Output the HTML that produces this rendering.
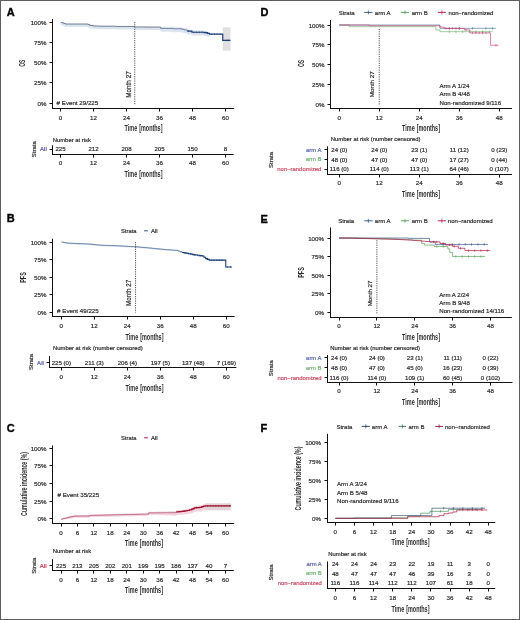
<!DOCTYPE html>
<html><head><meta charset="utf-8"><style>
html,body{margin:0;padding:0;background:#fff;width:520px;height:620px;overflow:hidden;}
svg{display:block;will-change:transform;}
text{font-family:"Liberation Sans", sans-serif;}
</style></head><body>
<svg width="520" height="620" viewBox="0 0 520 620">
<rect x="0" y="0" width="520" height="620" fill="#fff"/>
<text x="6.8" y="15.7" font-size="11" font-weight="bold" fill="#000" stroke="#000" stroke-width="0.35">A</text>
<polygon points="60.50,22.30 61.60,22.30 61.60,22.30 62.70,22.30 62.70,22.30 64.08,22.30 64.08,22.70 65.45,22.70 65.45,23.27 88.00,23.27 88.00,23.67 89.65,23.67 89.65,24.72 93.50,24.72 93.50,25.21 99.00,25.21 99.00,25.45 115.50,25.45 115.50,25.69 134.75,25.69 134.75,26.17 145.75,26.17 145.75,26.33 160.60,26.33 160.60,26.82 173.25,26.82 173.25,27.14 181.50,27.14 181.50,27.63 184.25,27.63 184.25,28.35 187.28,28.35 187.28,29.48 191.95,29.48 191.95,30.61 204.19,30.61 204.19,30.93 207.35,30.93 207.35,31.82 209.55,31.82 209.55,32.55 209.55,37.55 209.55,36.83 207.35,36.83 207.35,35.94 204.19,35.94 204.19,35.62 191.95,35.62 191.95,34.49 187.28,34.49 187.28,33.36 184.25,33.36 184.25,32.63 181.50,32.63 181.50,32.15 173.25,32.15 173.25,31.82 160.60,31.82 160.60,30.05 145.75,30.05 145.75,29.89 134.75,29.89 134.75,29.40 115.50,29.40 115.50,29.16 99.00,29.16 99.00,28.92 93.50,28.92 93.50,28.43 89.65,28.43 89.65,27.38 88.00,27.38 88.00,26.98 65.45,26.98 65.45,26.42 64.08,26.42 64.08,25.93 62.70,25.93 62.70,25.53 61.60,25.53 61.60,25.21 60.50,25.21" fill="#dbe3ee" opacity="1.0"/>
<rect x="222.75" y="27.30" width="7.70" height="23.40" fill="#e0e0e3" opacity="1.0"/>
<path d="M60.50,22.30H61.60V22.62H62.70V23.03H64.08V23.51H65.45V24.08H88.00V24.48H89.65V25.53H93.50V26.01H99.00V26.25H115.50V26.50H134.75V26.98H145.75V27.14H160.60V28.43" fill="none" stroke="#525e74" stroke-width="0.7" opacity="1.0"/>
<path d="M160.60,28.43H173.25V28.76H181.50V29.24H184.25V29.97H187.28V31.10" fill="none" stroke="#4d6385" stroke-width="0.7" opacity="1.0"/>
<path d="M187.28,31.10H191.95V32.23H204.19V32.55H207.35V33.44H209.55V34.16H222.75V40.30H230.45" fill="none" stroke="#1d3f73" stroke-width="1.2" opacity="1.0"/>
<path d="M188.38,30.20V32.00M193.88,31.33V33.13M196.62,31.33V33.13M199.38,31.33V33.13M202.12,31.33V33.13M205.70,31.65V33.45M211.75,33.26V35.06M214.50,33.26V35.06M217.25,33.26V35.06M220.00,33.26V35.06M226.88,39.40V41.20M228.80,39.40V41.20" stroke="#1d3f73" stroke-width="0.6" fill="none" opacity="1.0"/>
<line x1="134.75" y1="22.00" x2="134.75" y2="104.40" stroke="#2a2a2a" stroke-width="0.8" stroke-dasharray="1.2,1.05"/>
<text transform="translate(130.67,84.50) rotate(-90)" font-size="6.3" text-anchor="middle" fill="#2a2a2a" stroke="#2a2a2a" stroke-width="0.18">Month 27</text>
<line x1="52.50" y1="19.00" x2="52.50" y2="109.00" stroke="#111" stroke-width="1.0" />
<line x1="49.50" y1="103.50" x2="52.50" y2="103.50" stroke="#111" stroke-width="1.0" />
<text x="46.50" y="105.53" font-size="6.2" text-anchor="end" fill="#2a2a2a" stroke="#2a2a2a" stroke-width="0.18" >0%</text>
<line x1="49.50" y1="82.50" x2="52.50" y2="82.50" stroke="#111" stroke-width="1.0" />
<text x="46.50" y="85.36" font-size="6.2" text-anchor="end" fill="#2a2a2a" stroke="#2a2a2a" stroke-width="0.18" >25%</text>
<line x1="49.50" y1="62.50" x2="52.50" y2="62.50" stroke="#111" stroke-width="1.0" />
<text x="46.50" y="65.18" font-size="6.2" text-anchor="end" fill="#2a2a2a" stroke="#2a2a2a" stroke-width="0.18" >50%</text>
<line x1="49.50" y1="42.50" x2="52.50" y2="42.50" stroke="#111" stroke-width="1.0" />
<text x="46.50" y="45.01" font-size="6.2" text-anchor="end" fill="#2a2a2a" stroke="#2a2a2a" stroke-width="0.18" >75%</text>
<line x1="49.50" y1="22.50" x2="52.50" y2="22.50" stroke="#111" stroke-width="1.0" />
<text x="46.50" y="24.83" font-size="6.2" text-anchor="end" fill="#2a2a2a" stroke="#2a2a2a" stroke-width="0.18" >100%</text>
<line x1="52.00" y1="108.50" x2="234.20" y2="108.50" stroke="#111" stroke-width="1.0" />
<line x1="60.50" y1="108.50" x2="60.50" y2="111.50" stroke="#111" stroke-width="1.0" />
<text x="60.50" y="119.73" font-size="6.2" text-anchor="middle" fill="#2a2a2a" stroke="#2a2a2a" stroke-width="0.18" >0</text>
<line x1="93.50" y1="108.50" x2="93.50" y2="111.50" stroke="#111" stroke-width="1.0" />
<text x="93.50" y="119.73" font-size="6.2" text-anchor="middle" fill="#2a2a2a" stroke="#2a2a2a" stroke-width="0.18" >12</text>
<line x1="126.50" y1="108.50" x2="126.50" y2="111.50" stroke="#111" stroke-width="1.0" />
<text x="126.50" y="119.73" font-size="6.2" text-anchor="middle" fill="#2a2a2a" stroke="#2a2a2a" stroke-width="0.18" >24</text>
<line x1="159.50" y1="108.50" x2="159.50" y2="111.50" stroke="#111" stroke-width="1.0" />
<text x="159.50" y="119.73" font-size="6.2" text-anchor="middle" fill="#2a2a2a" stroke="#2a2a2a" stroke-width="0.18" >36</text>
<line x1="192.50" y1="108.50" x2="192.50" y2="111.50" stroke="#111" stroke-width="1.0" />
<text x="192.50" y="119.73" font-size="6.2" text-anchor="middle" fill="#2a2a2a" stroke="#2a2a2a" stroke-width="0.18" >48</text>
<line x1="225.50" y1="108.50" x2="225.50" y2="111.50" stroke="#111" stroke-width="1.0" />
<text x="225.50" y="119.73" font-size="6.2" text-anchor="middle" fill="#2a2a2a" stroke="#2a2a2a" stroke-width="0.18" >60</text>
<text x="56.60" y="104.83" font-size="6.2" text-anchor="start" fill="#2a2a2a" stroke="#2a2a2a" stroke-width="0.18" ># Event 29/225</text>
<text transform="translate(143.50,130.95) scale(0.664,1)" font-size="8.2" font-weight="bold" text-anchor="middle" fill="#2a2a2a" word-spacing="0.8">Time [months]</text>
<text transform="translate(24.85,63.30) rotate(-90) scale(0.6,1)" font-size="8.2" font-weight="bold" text-anchor="middle" fill="#2a2a2a">OS</text>
<line x1="52.50" y1="145.30" x2="52.50" y2="155.00" stroke="#111" stroke-width="1.0" />
<line x1="52.00" y1="154.50" x2="233.70" y2="154.50" stroke="#111" stroke-width="1.0" />
<line x1="49.50" y1="149.50" x2="52.50" y2="149.50" stroke="#111" stroke-width="1.0" />
<text x="46.80" y="151.40" font-size="6.1" text-anchor="end" fill="#5358a0" stroke="#5358a0" stroke-width="0.18" >All</text>
<line x1="60.50" y1="154.50" x2="60.50" y2="157.50" stroke="#111" stroke-width="1.0" />
<text x="60.50" y="165.23" font-size="6.2" text-anchor="middle" fill="#2a2a2a" stroke="#2a2a2a" stroke-width="0.18" >0</text>
<line x1="93.50" y1="154.50" x2="93.50" y2="157.50" stroke="#111" stroke-width="1.0" />
<text x="93.50" y="165.23" font-size="6.2" text-anchor="middle" fill="#2a2a2a" stroke="#2a2a2a" stroke-width="0.18" >12</text>
<line x1="126.50" y1="154.50" x2="126.50" y2="157.50" stroke="#111" stroke-width="1.0" />
<text x="126.50" y="165.23" font-size="6.2" text-anchor="middle" fill="#2a2a2a" stroke="#2a2a2a" stroke-width="0.18" >24</text>
<line x1="159.50" y1="154.50" x2="159.50" y2="157.50" stroke="#111" stroke-width="1.0" />
<text x="159.50" y="165.23" font-size="6.2" text-anchor="middle" fill="#2a2a2a" stroke="#2a2a2a" stroke-width="0.18" >36</text>
<line x1="192.50" y1="154.50" x2="192.50" y2="157.50" stroke="#111" stroke-width="1.0" />
<text x="192.50" y="165.23" font-size="6.2" text-anchor="middle" fill="#2a2a2a" stroke="#2a2a2a" stroke-width="0.18" >48</text>
<line x1="225.50" y1="154.50" x2="225.50" y2="157.50" stroke="#111" stroke-width="1.0" />
<text x="225.50" y="165.23" font-size="6.2" text-anchor="middle" fill="#2a2a2a" stroke="#2a2a2a" stroke-width="0.18" >60</text>
<text x="60.50" y="151.40" font-size="6.1" text-anchor="middle" fill="#2a2a2a" stroke="#2a2a2a" stroke-width="0.18" >225</text>
<text x="93.50" y="151.40" font-size="6.1" text-anchor="middle" fill="#2a2a2a" stroke="#2a2a2a" stroke-width="0.18" >212</text>
<text x="126.50" y="151.40" font-size="6.1" text-anchor="middle" fill="#2a2a2a" stroke="#2a2a2a" stroke-width="0.18" >208</text>
<text x="159.50" y="151.40" font-size="6.1" text-anchor="middle" fill="#2a2a2a" stroke="#2a2a2a" stroke-width="0.18" >205</text>
<text x="192.50" y="151.40" font-size="6.1" text-anchor="middle" fill="#2a2a2a" stroke="#2a2a2a" stroke-width="0.18" >150</text>
<text x="225.50" y="151.40" font-size="6.1" text-anchor="middle" fill="#2a2a2a" stroke="#2a2a2a" stroke-width="0.18" >8</text>
<text x="52.70" y="141.52" font-size="5.9" text-anchor="start" fill="#2a2a2a" stroke="#2a2a2a" stroke-width="0.18" >Number at risk</text>
<text transform="translate(143.50,177.35) scale(0.664,1)" font-size="8.2" font-weight="bold" text-anchor="middle" fill="#2a2a2a" word-spacing="0.8">Time [months]</text>
<text transform="translate(35.76,149.15) rotate(-90)" font-size="6.0" text-anchor="middle" fill="#2a2a2a" stroke="#2a2a2a" stroke-width="0.18">Strata</text>
<text x="6.8" y="222.4" font-size="11" font-weight="bold" fill="#000" stroke="#000" stroke-width="0.35">B</text>
<polygon points="61.30,242.00 63.50,242.00 63.50,242.00 65.70,242.00 65.70,242.28 67.90,242.28 67.90,242.42 70.10,242.42 70.10,242.56 72.30,242.56 72.30,242.70 74.58,242.70 74.58,242.79 76.86,242.79 76.86,242.88 79.14,242.88 79.14,242.97 81.41,242.97 81.41,243.06 83.69,243.06 83.69,243.15 85.97,243.15 85.97,243.24 88.25,243.24 88.25,243.33 90.56,243.33 90.56,243.57 92.87,243.57 92.87,243.81 95.18,243.81 95.18,244.04 97.49,244.04 97.49,244.28 99.80,244.28 99.80,244.52 102.16,244.52 102.16,244.60 104.51,244.60 104.51,244.68 106.87,244.68 106.87,244.76 109.23,244.76 109.23,244.84 111.59,244.84 111.59,244.92 113.94,244.92 113.94,245.00 116.30,245.00 116.30,245.08 118.71,245.08 118.71,245.21 121.11,245.21 121.11,245.34 123.52,245.34 123.52,245.47 125.92,245.47 125.92,245.61 128.33,245.61 128.33,245.74 130.74,245.74 130.74,245.87 133.14,245.87 133.14,246.00 135.55,246.00 135.55,246.13 137.96,246.13 137.96,246.34 140.36,246.34 140.36,246.55 142.77,246.55 142.77,246.76 145.18,246.76 145.18,246.97 147.48,246.97 147.48,247.20 149.78,247.20 149.78,247.43 152.08,247.43 152.08,247.65 154.39,247.65 154.39,247.88 156.69,247.88 156.69,248.11 158.99,248.11 158.99,248.34 161.30,248.34 161.30,248.56 163.60,248.56 163.60,248.79 165.71,248.79 165.71,248.94 167.82,248.94 167.82,249.09 169.93,249.09 169.93,249.25 172.03,249.25 172.03,249.40 174.14,249.40 174.14,249.55 176.25,249.55 176.25,249.70 178.18,249.70 178.18,250.38 180.10,250.38 180.10,251.05 182.02,251.05 182.02,251.73 184.17,251.73 184.17,252.16 186.31,252.16 186.31,252.60 188.46,252.60 188.46,253.03 190.60,253.03 190.60,253.47 192.75,253.47 192.75,253.90 195.09,253.90 195.09,254.25 197.43,254.25 197.43,254.60 199.76,254.60 199.76,254.95 202.10,254.95 202.10,255.30 203.89,255.30 203.89,256.60 205.68,256.60 205.68,257.89 207.46,257.89 207.46,258.66 209.25,258.66 209.25,259.43 225.75,259.43 225.75,259.43 225.75,259.43 225.75,266.29 225.75,268.11 225.75,261.25 225.75,261.25 225.75,261.25 209.25,261.25 209.25,260.48 207.46,260.48 207.46,259.71 205.68,259.71 205.68,258.41 203.89,258.41 203.89,257.12 202.10,257.12 202.10,256.77 199.76,256.77 199.76,256.42 197.43,256.42 197.43,256.07 195.09,256.07 195.09,255.72 192.75,255.72 192.75,255.29 190.60,255.29 190.60,254.85 188.46,254.85 188.46,254.42 186.31,254.42 186.31,253.98 184.17,253.98 184.17,253.55 182.02,253.55 182.02,252.87 180.10,252.87 180.10,252.20 178.18,252.20 178.18,251.52 176.25,251.52 176.25,251.37 174.14,251.37 174.14,251.22 172.03,251.22 172.03,251.06 169.93,251.06 169.93,250.91 167.82,250.91 167.82,250.76 165.71,250.76 165.71,250.61 163.60,250.61 163.60,250.38 161.30,250.38 161.30,250.16 158.99,250.16 158.99,249.93 156.69,249.93 156.69,249.70 154.39,249.70 154.39,249.47 152.08,249.47 152.08,249.25 149.78,249.25 149.78,249.02 147.48,249.02 147.48,248.79 145.18,248.79 145.18,248.58 142.77,248.58 142.77,248.37 140.36,248.37 140.36,248.16 137.96,248.16 137.96,247.95 135.55,247.95 135.55,247.82 133.14,247.82 133.14,247.69 130.74,247.69 130.74,247.56 128.33,247.56 128.33,247.43 125.92,247.43 125.92,247.29 123.52,247.29 123.52,247.16 121.11,247.16 121.11,247.03 118.71,247.03 118.71,246.90 116.30,246.90 116.30,246.82 113.94,246.82 113.94,246.74 111.59,246.74 111.59,246.66 109.23,246.66 109.23,246.58 106.87,246.58 106.87,246.50 104.51,246.50 104.51,246.42 102.16,246.42 102.16,246.34 99.80,246.34 99.80,246.10 97.49,246.10 97.49,245.86 95.18,245.86 95.18,245.63 92.87,245.63 92.87,245.39 90.56,245.39 90.56,245.15 88.25,245.15 88.25,245.06 85.97,245.06 85.97,244.97 83.69,244.97 83.69,244.88 81.41,244.88 81.41,244.79 79.14,244.79 79.14,244.70 76.86,244.70 76.86,244.61 74.58,244.61 74.58,244.52 72.30,244.52 72.30,244.38 70.10,244.38 70.10,244.24 67.90,244.24 67.90,244.10 65.70,244.10 65.70,243.61 63.50,243.61 63.50,243.12 61.30,243.12" fill="#dde5f0" opacity="1.0"/>
<path d="M61.30,242.00H63.50V242.49H65.70V242.98H67.90V243.12H70.10V243.26H72.30V243.40H74.58V243.49H76.86V243.58H79.14V243.67H81.41V243.76H83.69V243.85H85.97V243.94H88.25V244.03H90.56V244.27H92.87V244.51H95.18V244.74H97.49V244.98H99.80V245.22H102.16V245.30H104.51V245.38H106.87V245.46H109.23V245.54H111.59V245.62H113.94V245.70H116.30V245.78H118.71V245.91H121.11V246.04H123.52V246.17H125.92V246.31H128.33V246.44H130.74V246.57H133.14V246.70H135.55V246.83H137.96V247.04H140.36V247.25H142.77V247.46H145.18V247.67H147.48V247.90H149.78V248.12H152.08V248.35H154.39V248.58H156.69V248.81H158.99V249.03H161.30V249.26H163.60V249.49H165.71V249.64H167.82V249.79H169.93V249.94H172.03V250.10H174.14V250.25H176.25V250.40H178.18V251.08H180.10V251.75H182.02V252.43" fill="none" stroke="#42638c" stroke-width="0.7" opacity="1.0"/>
<path d="M182.02,252.43H184.17V252.86H186.31V253.30H188.46V253.73H190.60V254.17H192.75V254.60H195.09V254.95H197.43V255.30H199.76V255.65H202.10V256.00H203.89V257.30H205.68V258.59H207.46V259.36H209.25V260.13H225.75H225.75V266.99H232.07" fill="none" stroke="#1d3f73" stroke-width="1.1" opacity="1.0"/>
<path d="M185.05,251.96V253.76M187.80,252.40V254.20M190.55,252.83V254.63M194.68,253.70V255.50M197.43,254.40V256.20M200.18,254.75V256.55M207.05,257.69V259.49M211.18,259.23V261.03M213.93,259.23V261.03M216.68,259.23V261.03M219.43,259.23V261.03M222.18,259.23V261.03M227.68,266.09V267.89M230.43,266.09V267.89" stroke="#1d3f73" stroke-width="0.6" fill="none" opacity="1.0"/>
<line x1="135.55" y1="242.00" x2="135.55" y2="312.50" stroke="#2a2a2a" stroke-width="0.8" stroke-dasharray="1.2,1.05"/>
<text transform="translate(130.77,292.90) rotate(-90)" font-size="6.3" text-anchor="middle" fill="#2a2a2a" stroke="#2a2a2a" stroke-width="0.18">Month 27</text>
<line x1="52.50" y1="238.80" x2="52.50" y2="317.00" stroke="#111" stroke-width="1.0" />
<line x1="49.50" y1="312.50" x2="52.50" y2="312.50" stroke="#111" stroke-width="1.0" />
<text x="46.50" y="314.53" font-size="6.2" text-anchor="end" fill="#2a2a2a" stroke="#2a2a2a" stroke-width="0.18" >0%</text>
<line x1="49.50" y1="294.50" x2="52.50" y2="294.50" stroke="#111" stroke-width="1.0" />
<text x="46.50" y="297.03" font-size="6.2" text-anchor="end" fill="#2a2a2a" stroke="#2a2a2a" stroke-width="0.18" >25%</text>
<line x1="49.50" y1="277.50" x2="52.50" y2="277.50" stroke="#111" stroke-width="1.0" />
<text x="46.50" y="279.53" font-size="6.2" text-anchor="end" fill="#2a2a2a" stroke="#2a2a2a" stroke-width="0.18" >50%</text>
<line x1="49.50" y1="259.50" x2="52.50" y2="259.50" stroke="#111" stroke-width="1.0" />
<text x="46.50" y="262.03" font-size="6.2" text-anchor="end" fill="#2a2a2a" stroke="#2a2a2a" stroke-width="0.18" >75%</text>
<line x1="49.50" y1="242.50" x2="52.50" y2="242.50" stroke="#111" stroke-width="1.0" />
<text x="46.50" y="244.53" font-size="6.2" text-anchor="end" fill="#2a2a2a" stroke="#2a2a2a" stroke-width="0.18" >100%</text>
<line x1="52.00" y1="316.50" x2="234.60" y2="316.50" stroke="#111" stroke-width="1.0" />
<line x1="61.50" y1="316.50" x2="61.50" y2="319.50" stroke="#111" stroke-width="1.0" />
<text x="61.30" y="327.63" font-size="6.2" text-anchor="middle" fill="#2a2a2a" stroke="#2a2a2a" stroke-width="0.18" >0</text>
<line x1="94.50" y1="316.50" x2="94.50" y2="319.50" stroke="#111" stroke-width="1.0" />
<text x="94.30" y="327.63" font-size="6.2" text-anchor="middle" fill="#2a2a2a" stroke="#2a2a2a" stroke-width="0.18" >12</text>
<line x1="127.50" y1="316.50" x2="127.50" y2="319.50" stroke="#111" stroke-width="1.0" />
<text x="127.30" y="327.63" font-size="6.2" text-anchor="middle" fill="#2a2a2a" stroke="#2a2a2a" stroke-width="0.18" >24</text>
<line x1="160.50" y1="316.50" x2="160.50" y2="319.50" stroke="#111" stroke-width="1.0" />
<text x="160.30" y="327.63" font-size="6.2" text-anchor="middle" fill="#2a2a2a" stroke="#2a2a2a" stroke-width="0.18" >36</text>
<line x1="193.50" y1="316.50" x2="193.50" y2="319.50" stroke="#111" stroke-width="1.0" />
<text x="193.30" y="327.63" font-size="6.2" text-anchor="middle" fill="#2a2a2a" stroke="#2a2a2a" stroke-width="0.18" >48</text>
<line x1="226.50" y1="316.50" x2="226.50" y2="319.50" stroke="#111" stroke-width="1.0" />
<text x="226.30" y="327.63" font-size="6.2" text-anchor="middle" fill="#2a2a2a" stroke="#2a2a2a" stroke-width="0.18" >60</text>
<text x="57.10" y="313.03" font-size="6.2" text-anchor="start" fill="#2a2a2a" stroke="#2a2a2a" stroke-width="0.18" ># Event 49/225</text>
<text transform="translate(144.50,339.95) scale(0.664,1)" font-size="8.2" font-weight="bold" text-anchor="middle" fill="#2a2a2a" word-spacing="0.8">Time [months]</text>
<text transform="translate(25.55,277.50) rotate(-90) scale(0.664,1)" font-size="8.2" font-weight="bold" text-anchor="middle" fill="#2a2a2a">PFS</text>
<text x="121.00" y="232.89" font-size="5.8" text-anchor="start" fill="#2a2a2a" stroke="#2a2a2a" stroke-width="0.18" >Strata</text>
<line x1="144.20" y1="230.80" x2="147.80" y2="230.80" stroke="#2a3f66" stroke-width="1.0" />
<text x="151.00" y="232.96" font-size="6.0" text-anchor="start" fill="#2a2a2a" stroke="#2a2a2a" stroke-width="0.18" >All</text>
<line x1="49.50" y1="356.20" x2="49.50" y2="368.00" stroke="#111" stroke-width="1.0" />
<line x1="49.00" y1="367.50" x2="236.30" y2="367.50" stroke="#111" stroke-width="1.0" />
<line x1="46.50" y1="362.50" x2="49.50" y2="362.50" stroke="#111" stroke-width="1.0" />
<text x="43.90" y="364.50" font-size="6.1" text-anchor="end" fill="#5358a0" stroke="#5358a0" stroke-width="0.18" >All</text>
<line x1="61.50" y1="367.50" x2="61.50" y2="370.50" stroke="#111" stroke-width="1.0" />
<text x="61.30" y="379.23" font-size="6.2" text-anchor="middle" fill="#2a2a2a" stroke="#2a2a2a" stroke-width="0.18" >0</text>
<line x1="94.50" y1="367.50" x2="94.50" y2="370.50" stroke="#111" stroke-width="1.0" />
<text x="94.30" y="379.23" font-size="6.2" text-anchor="middle" fill="#2a2a2a" stroke="#2a2a2a" stroke-width="0.18" >12</text>
<line x1="127.50" y1="367.50" x2="127.50" y2="370.50" stroke="#111" stroke-width="1.0" />
<text x="127.30" y="379.23" font-size="6.2" text-anchor="middle" fill="#2a2a2a" stroke="#2a2a2a" stroke-width="0.18" >24</text>
<line x1="160.50" y1="367.50" x2="160.50" y2="370.50" stroke="#111" stroke-width="1.0" />
<text x="160.30" y="379.23" font-size="6.2" text-anchor="middle" fill="#2a2a2a" stroke="#2a2a2a" stroke-width="0.18" >36</text>
<line x1="193.50" y1="367.50" x2="193.50" y2="370.50" stroke="#111" stroke-width="1.0" />
<text x="193.30" y="379.23" font-size="6.2" text-anchor="middle" fill="#2a2a2a" stroke="#2a2a2a" stroke-width="0.18" >48</text>
<line x1="226.50" y1="367.50" x2="226.50" y2="370.50" stroke="#111" stroke-width="1.0" />
<text x="226.30" y="379.23" font-size="6.2" text-anchor="middle" fill="#2a2a2a" stroke="#2a2a2a" stroke-width="0.18" >60</text>
<text x="61.30" y="364.50" font-size="6.1" text-anchor="middle" fill="#2a2a2a" stroke="#2a2a2a" stroke-width="0.18" >225 (0)</text>
<text x="94.30" y="364.50" font-size="6.1" text-anchor="middle" fill="#2a2a2a" stroke="#2a2a2a" stroke-width="0.18" >211 (3)</text>
<text x="127.30" y="364.50" font-size="6.1" text-anchor="middle" fill="#2a2a2a" stroke="#2a2a2a" stroke-width="0.18" >206 (4)</text>
<text x="160.30" y="364.50" font-size="6.1" text-anchor="middle" fill="#2a2a2a" stroke="#2a2a2a" stroke-width="0.18" >197 (5)</text>
<text x="193.30" y="364.50" font-size="6.1" text-anchor="middle" fill="#2a2a2a" stroke="#2a2a2a" stroke-width="0.18" >137 (48)</text>
<text x="226.30" y="364.50" font-size="6.1" text-anchor="middle" fill="#2a2a2a" stroke="#2a2a2a" stroke-width="0.18" >7 (169)</text>
<text x="53.00" y="349.72" font-size="5.9" text-anchor="start" fill="#2a2a2a" stroke="#2a2a2a" stroke-width="0.18" >Number at risk (number censored)</text>
<text transform="translate(144.50,390.55) scale(0.664,1)" font-size="8.2" font-weight="bold" text-anchor="middle" fill="#2a2a2a" word-spacing="0.8">Time [months]</text>
<text transform="translate(32.86,361.90) rotate(-90)" font-size="6.0" text-anchor="middle" fill="#2a2a2a" stroke="#2a2a2a" stroke-width="0.18">Strata</text>
<text x="6.8" y="432.0" font-size="11" font-weight="bold" fill="#000" stroke="#000" stroke-width="0.35">C</text>
<polygon points="61.00,518.24 62.92,518.24 62.92,517.71 64.84,517.71 64.84,517.18 66.75,517.18 66.75,516.65 68.67,516.65 68.67,516.12 70.41,516.12 70.41,515.79 72.14,515.79 72.14,515.46 73.88,515.46 73.88,515.13 76.21,515.13 76.21,515.11 78.54,515.11 78.54,515.09 80.87,515.09 80.87,515.06 83.19,515.06 83.19,515.04 85.52,515.04 85.52,515.02 87.85,515.02 87.85,514.99 90.04,514.99 90.04,514.43 92.46,514.43 92.46,514.37 94.88,514.37 94.88,514.31 97.29,514.31 97.29,514.26 99.71,514.26 99.71,514.20 102.12,514.20 102.12,514.14 104.54,514.14 104.54,514.08 106.96,514.08 106.96,514.03 109.37,514.03 109.37,513.97 111.79,513.97 111.79,513.91 114.21,513.91 114.21,513.85 116.62,513.85 116.62,513.79 119.04,513.79 119.04,513.74 121.45,513.74 121.45,513.68 123.87,513.68 123.87,513.62 126.29,513.62 126.29,513.56 128.70,513.56 128.70,513.51 131.12,513.51 131.12,513.45 133.54,513.45 133.54,513.39 135.95,513.39 135.95,513.33 138.37,513.33 138.37,513.28 140.78,513.28 140.78,513.22 143.20,513.22 143.20,513.16 148.68,513.16 148.68,511.79 151.02,511.79 151.02,511.74 153.36,511.74 153.36,511.68 155.70,511.68 155.70,511.63 158.05,511.63 158.05,511.57 160.39,511.57 160.39,511.52 162.73,511.52 162.73,511.46 165.07,511.46 165.07,511.41 167.41,511.41 167.41,511.35 169.75,511.35 169.75,511.30 172.09,511.30 172.09,511.24 174.44,511.24 174.44,511.19 176.08,511.19 176.08,510.31 177.91,510.31 177.91,510.11 179.73,510.11 179.73,509.92 181.56,509.92 181.56,509.72 183.39,509.72 183.39,509.38 185.21,509.38 185.21,509.04 187.04,509.04 187.04,508.70 189.37,508.70 189.37,508.03 191.70,508.03 191.70,507.35 193.07,507.35 193.07,506.66 194.44,506.66 194.44,505.96 196.26,505.96 196.26,505.77 198.09,505.77 198.09,505.57 199.92,505.57 199.92,505.37 201.84,505.37 201.84,504.49 203.62,504.49 203.62,504.14 205.40,504.14 205.40,503.79 230.88,503.79 230.88,503.33 230.88,511.20 230.88,510.15 205.40,510.15 205.40,510.39 203.62,510.39 203.62,510.64 201.84,510.64 201.84,511.41 199.92,511.41 199.92,511.50 198.09,511.50 198.09,511.58 196.26,511.58 196.26,511.67 194.44,511.67 194.44,512.29 193.07,512.29 193.07,512.90 191.70,512.90 191.70,513.44 189.37,513.44 189.37,513.98 187.04,513.98 187.04,514.21 185.21,514.21 185.21,514.44 183.39,514.44 183.39,514.67 181.56,514.67 181.56,514.76 179.73,514.76 179.73,514.85 177.91,514.85 177.91,514.94 176.08,514.94 176.08,515.71 174.44,515.71 174.44,515.63 172.09,515.63 172.09,515.55 169.75,515.55 169.75,515.46 167.41,515.46 167.41,515.38 165.07,515.38 165.07,515.30 162.73,515.30 162.73,515.21 160.39,515.21 160.39,515.13 158.05,515.13 158.05,515.05 155.70,515.05 155.70,514.96 153.36,514.96 153.36,514.88 151.02,514.88 151.02,514.80 148.68,514.80 148.68,515.84 143.20,515.84 143.20,515.90 140.78,515.90 140.78,515.95 138.37,515.95 138.37,516.01 135.95,516.01 135.95,516.07 133.54,516.07 133.54,516.13 131.12,516.13 131.12,516.19 128.70,516.19 128.70,516.24 126.29,516.24 126.29,516.30 123.87,516.30 123.87,516.36 121.45,516.36 121.45,516.42 119.04,516.42 119.04,516.47 116.62,516.47 116.62,516.53 114.21,516.53 114.21,516.59 111.79,516.59 111.79,516.65 109.37,516.65 109.37,516.70 106.96,516.70 106.96,516.76 104.54,516.76 104.54,516.82 102.12,516.82 102.12,516.88 99.71,516.88 99.71,516.93 97.29,516.93 97.29,516.99 94.88,516.99 94.88,517.05 92.46,517.05 92.46,517.11 90.04,517.11 90.04,517.67 87.85,517.67 87.85,517.70 85.52,517.70 85.52,517.72 83.19,517.72 83.19,517.74 80.87,517.74 80.87,517.77 78.54,517.77 78.54,517.79 76.21,517.79 76.21,517.81 73.88,517.81 73.88,518.14 72.14,518.14 72.14,518.47 70.41,518.47 70.41,518.80 68.67,518.80 68.67,519.22 66.75,519.22 66.75,519.22 64.84,519.22 64.84,519.22 62.92,519.22 62.92,519.22 61.00,519.22" fill="#f2d5df" opacity="1.0"/>
<rect x="205.40" y="503.29" width="25.48" height="6.77" fill="#ddd3d8" opacity="0.85"/>
<path d="M61.00,519.22H62.92V518.69H64.84V518.17H66.75V517.64H68.67V517.11H70.41V516.78H72.14V516.45H73.88V516.12H76.21V516.10H78.54V516.07H80.87V516.05H83.19V516.03H85.52V516.00H87.85V515.98H90.04V515.42H92.46V515.36H94.88V515.30H97.29V515.24H99.71V515.19H102.12V515.13H104.54V515.07H106.96V515.01H109.37V514.95H111.79V514.90H114.21V514.84H116.62V514.78H119.04V514.72H121.45V514.67H123.87V514.61H126.29V514.55H128.70V514.49H131.12V514.44H133.54V514.38H135.95V514.32H138.37V514.26H140.78V514.20H143.20V514.15H148.68V512.88H151.02V512.87H153.36V512.85H155.70V512.84H158.05V512.83H160.39V512.81H162.73V512.80H165.07V512.79H167.41V512.78H169.75V512.76H172.09V512.75H174.44V512.74H176.08V511.89" fill="none" stroke="#ad4262" stroke-width="0.7" opacity="1.0"/>
<path d="M176.08,511.89H177.91V511.73H179.73V511.56H181.56V511.40H183.39V511.09H185.21V510.79H187.04V510.48H189.37V509.85H191.70V509.21H193.07V508.54H194.44V507.87H196.26V507.71H198.09V507.54H199.92V507.38H201.84V506.53H203.62V506.22H205.40V505.90H230.88" fill="none" stroke="#a0102f" stroke-width="1.2" opacity="1.0"/>
<path d="M178.82,510.83V512.63M184.30,510.19V511.99M196.63,506.81V508.61M207.59,505.00V506.80M210.33,505.00V506.80M213.07,505.00V506.80M215.81,505.00V506.80M218.55,505.00V506.80M221.29,505.00V506.80M224.03,505.00V506.80M226.77,505.00V506.80M229.51,505.00V506.80" stroke="#a0102f" stroke-width="0.6" fill="none" opacity="1.0"/>
<line x1="52.50" y1="445.50" x2="52.50" y2="524.00" stroke="#111" stroke-width="1.0" />
<line x1="49.50" y1="518.50" x2="52.50" y2="518.50" stroke="#111" stroke-width="1.0" />
<text x="46.50" y="521.33" font-size="6.2" text-anchor="end" fill="#2a2a2a" stroke="#2a2a2a" stroke-width="0.18" >0%</text>
<line x1="49.50" y1="501.50" x2="52.50" y2="501.50" stroke="#111" stroke-width="1.0" />
<text x="46.50" y="503.71" font-size="6.2" text-anchor="end" fill="#2a2a2a" stroke="#2a2a2a" stroke-width="0.18" >25%</text>
<line x1="49.50" y1="483.50" x2="52.50" y2="483.50" stroke="#111" stroke-width="1.0" />
<text x="46.50" y="486.08" font-size="6.2" text-anchor="end" fill="#2a2a2a" stroke="#2a2a2a" stroke-width="0.18" >50%</text>
<line x1="49.50" y1="465.50" x2="52.50" y2="465.50" stroke="#111" stroke-width="1.0" />
<text x="46.50" y="468.46" font-size="6.2" text-anchor="end" fill="#2a2a2a" stroke="#2a2a2a" stroke-width="0.18" >75%</text>
<line x1="49.50" y1="448.50" x2="52.50" y2="448.50" stroke="#111" stroke-width="1.0" />
<text x="46.50" y="450.83" font-size="6.2" text-anchor="end" fill="#2a2a2a" stroke="#2a2a2a" stroke-width="0.18" >100%</text>
<line x1="52.00" y1="523.50" x2="234.20" y2="523.50" stroke="#111" stroke-width="1.0" />
<line x1="61.50" y1="523.50" x2="61.50" y2="526.50" stroke="#111" stroke-width="1.0" />
<text x="61.00" y="534.53" font-size="6.2" text-anchor="middle" fill="#2a2a2a" stroke="#2a2a2a" stroke-width="0.18" >0</text>
<line x1="77.50" y1="523.50" x2="77.50" y2="526.50" stroke="#111" stroke-width="1.0" />
<text x="77.44" y="534.53" font-size="6.2" text-anchor="middle" fill="#2a2a2a" stroke="#2a2a2a" stroke-width="0.18" >6</text>
<line x1="93.50" y1="523.50" x2="93.50" y2="526.50" stroke="#111" stroke-width="1.0" />
<text x="93.88" y="534.53" font-size="6.2" text-anchor="middle" fill="#2a2a2a" stroke="#2a2a2a" stroke-width="0.18" >12</text>
<line x1="110.50" y1="523.50" x2="110.50" y2="526.50" stroke="#111" stroke-width="1.0" />
<text x="110.32" y="534.53" font-size="6.2" text-anchor="middle" fill="#2a2a2a" stroke="#2a2a2a" stroke-width="0.18" >18</text>
<line x1="126.50" y1="523.50" x2="126.50" y2="526.50" stroke="#111" stroke-width="1.0" />
<text x="126.76" y="534.53" font-size="6.2" text-anchor="middle" fill="#2a2a2a" stroke="#2a2a2a" stroke-width="0.18" >24</text>
<line x1="143.50" y1="523.50" x2="143.50" y2="526.50" stroke="#111" stroke-width="1.0" />
<text x="143.20" y="534.53" font-size="6.2" text-anchor="middle" fill="#2a2a2a" stroke="#2a2a2a" stroke-width="0.18" >30</text>
<line x1="159.50" y1="523.50" x2="159.50" y2="526.50" stroke="#111" stroke-width="1.0" />
<text x="159.64" y="534.53" font-size="6.2" text-anchor="middle" fill="#2a2a2a" stroke="#2a2a2a" stroke-width="0.18" >36</text>
<line x1="176.50" y1="523.50" x2="176.50" y2="526.50" stroke="#111" stroke-width="1.0" />
<text x="176.08" y="534.53" font-size="6.2" text-anchor="middle" fill="#2a2a2a" stroke="#2a2a2a" stroke-width="0.18" >42</text>
<line x1="192.50" y1="523.50" x2="192.50" y2="526.50" stroke="#111" stroke-width="1.0" />
<text x="192.52" y="534.53" font-size="6.2" text-anchor="middle" fill="#2a2a2a" stroke="#2a2a2a" stroke-width="0.18" >48</text>
<line x1="208.50" y1="523.50" x2="208.50" y2="526.50" stroke="#111" stroke-width="1.0" />
<text x="208.96" y="534.53" font-size="6.2" text-anchor="middle" fill="#2a2a2a" stroke="#2a2a2a" stroke-width="0.18" >54</text>
<line x1="225.50" y1="523.50" x2="225.50" y2="526.50" stroke="#111" stroke-width="1.0" />
<text x="225.40" y="534.53" font-size="6.2" text-anchor="middle" fill="#2a2a2a" stroke="#2a2a2a" stroke-width="0.18" >60</text>
<text x="57.50" y="496.63" font-size="6.2" text-anchor="start" fill="#2a2a2a" stroke="#2a2a2a" stroke-width="0.18" ># Event 35/225</text>
<text transform="translate(144.00,546.25) scale(0.664,1)" font-size="8.2" font-weight="bold" text-anchor="middle" fill="#2a2a2a" word-spacing="0.8">Time [months]</text>
<text transform="translate(26.85,484.00) rotate(-90) scale(0.645,1)" font-size="8.2" font-weight="bold" text-anchor="middle" fill="#2a2a2a">Cumulative incidence (%)</text>
<text x="121.00" y="439.89" font-size="5.8" text-anchor="start" fill="#2a2a2a" stroke="#2a2a2a" stroke-width="0.18" >Strata</text>
<line x1="144.20" y1="437.80" x2="147.80" y2="437.80" stroke="#a01538" stroke-width="1.0" />
<text x="151.00" y="439.96" font-size="6.0" text-anchor="start" fill="#2a2a2a" stroke="#2a2a2a" stroke-width="0.18" >All</text>
<line x1="52.50" y1="559.20" x2="52.50" y2="571.00" stroke="#111" stroke-width="1.0" />
<line x1="52.00" y1="570.50" x2="233.80" y2="570.50" stroke="#111" stroke-width="1.0" />
<line x1="49.50" y1="565.50" x2="52.50" y2="565.50" stroke="#111" stroke-width="1.0" />
<text x="46.50" y="568.00" font-size="6.1" text-anchor="end" fill="#c0304a" stroke="#c0304a" stroke-width="0.18" >All</text>
<line x1="61.50" y1="570.50" x2="61.50" y2="573.50" stroke="#111" stroke-width="1.0" />
<text x="61.00" y="581.63" font-size="6.2" text-anchor="middle" fill="#2a2a2a" stroke="#2a2a2a" stroke-width="0.18" >0</text>
<line x1="77.50" y1="570.50" x2="77.50" y2="573.50" stroke="#111" stroke-width="1.0" />
<text x="77.44" y="581.63" font-size="6.2" text-anchor="middle" fill="#2a2a2a" stroke="#2a2a2a" stroke-width="0.18" >6</text>
<line x1="93.50" y1="570.50" x2="93.50" y2="573.50" stroke="#111" stroke-width="1.0" />
<text x="93.88" y="581.63" font-size="6.2" text-anchor="middle" fill="#2a2a2a" stroke="#2a2a2a" stroke-width="0.18" >12</text>
<line x1="110.50" y1="570.50" x2="110.50" y2="573.50" stroke="#111" stroke-width="1.0" />
<text x="110.32" y="581.63" font-size="6.2" text-anchor="middle" fill="#2a2a2a" stroke="#2a2a2a" stroke-width="0.18" >18</text>
<line x1="126.50" y1="570.50" x2="126.50" y2="573.50" stroke="#111" stroke-width="1.0" />
<text x="126.76" y="581.63" font-size="6.2" text-anchor="middle" fill="#2a2a2a" stroke="#2a2a2a" stroke-width="0.18" >24</text>
<line x1="143.50" y1="570.50" x2="143.50" y2="573.50" stroke="#111" stroke-width="1.0" />
<text x="143.20" y="581.63" font-size="6.2" text-anchor="middle" fill="#2a2a2a" stroke="#2a2a2a" stroke-width="0.18" >30</text>
<line x1="159.50" y1="570.50" x2="159.50" y2="573.50" stroke="#111" stroke-width="1.0" />
<text x="159.64" y="581.63" font-size="6.2" text-anchor="middle" fill="#2a2a2a" stroke="#2a2a2a" stroke-width="0.18" >36</text>
<line x1="176.50" y1="570.50" x2="176.50" y2="573.50" stroke="#111" stroke-width="1.0" />
<text x="176.08" y="581.63" font-size="6.2" text-anchor="middle" fill="#2a2a2a" stroke="#2a2a2a" stroke-width="0.18" >42</text>
<line x1="192.50" y1="570.50" x2="192.50" y2="573.50" stroke="#111" stroke-width="1.0" />
<text x="192.52" y="581.63" font-size="6.2" text-anchor="middle" fill="#2a2a2a" stroke="#2a2a2a" stroke-width="0.18" >48</text>
<line x1="208.50" y1="570.50" x2="208.50" y2="573.50" stroke="#111" stroke-width="1.0" />
<text x="208.96" y="581.63" font-size="6.2" text-anchor="middle" fill="#2a2a2a" stroke="#2a2a2a" stroke-width="0.18" >54</text>
<line x1="225.50" y1="570.50" x2="225.50" y2="573.50" stroke="#111" stroke-width="1.0" />
<text x="225.40" y="581.63" font-size="6.2" text-anchor="middle" fill="#2a2a2a" stroke="#2a2a2a" stroke-width="0.18" >60</text>
<text x="61.00" y="568.00" font-size="6.1" text-anchor="middle" fill="#2a2a2a" stroke="#2a2a2a" stroke-width="0.18" >225</text>
<text x="77.44" y="568.00" font-size="6.1" text-anchor="middle" fill="#2a2a2a" stroke="#2a2a2a" stroke-width="0.18" >213</text>
<text x="93.88" y="568.00" font-size="6.1" text-anchor="middle" fill="#2a2a2a" stroke="#2a2a2a" stroke-width="0.18" >205</text>
<text x="110.32" y="568.00" font-size="6.1" text-anchor="middle" fill="#2a2a2a" stroke="#2a2a2a" stroke-width="0.18" >202</text>
<text x="126.76" y="568.00" font-size="6.1" text-anchor="middle" fill="#2a2a2a" stroke="#2a2a2a" stroke-width="0.18" >201</text>
<text x="143.20" y="568.00" font-size="6.1" text-anchor="middle" fill="#2a2a2a" stroke="#2a2a2a" stroke-width="0.18" >199</text>
<text x="159.64" y="568.00" font-size="6.1" text-anchor="middle" fill="#2a2a2a" stroke="#2a2a2a" stroke-width="0.18" >195</text>
<text x="176.08" y="568.00" font-size="6.1" text-anchor="middle" fill="#2a2a2a" stroke="#2a2a2a" stroke-width="0.18" >186</text>
<text x="192.52" y="568.00" font-size="6.1" text-anchor="middle" fill="#2a2a2a" stroke="#2a2a2a" stroke-width="0.18" >137</text>
<text x="208.96" y="568.00" font-size="6.1" text-anchor="middle" fill="#2a2a2a" stroke="#2a2a2a" stroke-width="0.18" >40</text>
<text x="225.40" y="568.00" font-size="6.1" text-anchor="middle" fill="#2a2a2a" stroke="#2a2a2a" stroke-width="0.18" >7</text>
<text x="52.80" y="552.92" font-size="5.9" text-anchor="start" fill="#2a2a2a" stroke="#2a2a2a" stroke-width="0.18" >Number at risk</text>
<text transform="translate(144.00,593.45) scale(0.664,1)" font-size="8.2" font-weight="bold" text-anchor="middle" fill="#2a2a2a" word-spacing="0.8">Time [months]</text>
<text transform="translate(35.56,565.65) rotate(-90)" font-size="6.0" text-anchor="middle" fill="#2a2a2a" stroke="#2a2a2a" stroke-width="0.18">Strata</text>
<text x="260.4" y="15.9" font-size="11" font-weight="bold" fill="#000" stroke="#000" stroke-width="0.35">D</text>
<path d="M339.25,25.00H349.25V26.67H435.92V30.01H439.92V31.68H492.58" fill="none" stroke="#62aa62" stroke-width="0.6" opacity="1.0"/>
<path d="M449.25,30.48V32.88M455.92,30.48V32.88M462.58,30.48V32.88M469.25,30.48V32.88M475.92,30.48V32.88M482.58,30.48V32.88M489.25,30.48V32.88" stroke="#62aa62" stroke-width="0.6" fill="none" opacity="1.0"/>
<path d="M339.25,25.00H439.92V28.34H495.92" fill="none" stroke="#3f6a9a" stroke-width="0.6" opacity="1.0"/>
<path d="M449.25,27.14V29.54M459.25,27.14V29.54M472.58,27.14V29.54M485.92,27.14V29.54M492.58,27.14V29.54" stroke="#3f6a9a" stroke-width="0.6" fill="none" opacity="1.0"/>
<path d="M339.25,25.00H369.25V25.72H439.92V27.07H444.25V28.42H464.25V29.85H469.92V32.95H490.25V33.27H490.58V45.27H498.58" fill="none" stroke="#c0406a" stroke-width="0.65" opacity="1.0"/>
<path d="M445.92,27.22V29.62M449.25,27.22V29.62M452.58,27.22V29.62M455.92,27.22V29.62M459.25,27.22V29.62M465.92,28.65V31.05M472.58,31.75V34.15M475.92,31.75V34.15M479.25,31.75V34.15M482.58,31.75V34.15M485.92,31.75V34.15M495.92,44.07V46.47" stroke="#c0406a" stroke-width="0.6" fill="none" opacity="1.0"/>
<line x1="379.25" y1="29.00" x2="379.25" y2="104.40" stroke="#2a2a2a" stroke-width="0.8" stroke-dasharray="1.2,1.05"/>
<text transform="translate(374.33,84.30) rotate(-90)" font-size="6.2" text-anchor="middle" fill="#2a2a2a" stroke="#2a2a2a" stroke-width="0.18">Month 27</text>
<line x1="330.50" y1="20.00" x2="330.50" y2="109.00" stroke="#111" stroke-width="1.0" />
<line x1="327.50" y1="104.50" x2="330.50" y2="104.50" stroke="#111" stroke-width="1.0" />
<text x="324.50" y="107.03" font-size="6.2" text-anchor="end" fill="#2a2a2a" stroke="#2a2a2a" stroke-width="0.18" >0%</text>
<line x1="327.50" y1="84.50" x2="330.50" y2="84.50" stroke="#111" stroke-width="1.0" />
<text x="324.50" y="87.16" font-size="6.2" text-anchor="end" fill="#2a2a2a" stroke="#2a2a2a" stroke-width="0.18" >25%</text>
<line x1="327.50" y1="64.50" x2="330.50" y2="64.50" stroke="#111" stroke-width="1.0" />
<text x="324.50" y="67.28" font-size="6.2" text-anchor="end" fill="#2a2a2a" stroke="#2a2a2a" stroke-width="0.18" >50%</text>
<line x1="327.50" y1="44.50" x2="330.50" y2="44.50" stroke="#111" stroke-width="1.0" />
<text x="324.50" y="47.41" font-size="6.2" text-anchor="end" fill="#2a2a2a" stroke="#2a2a2a" stroke-width="0.18" >75%</text>
<line x1="327.50" y1="25.50" x2="330.50" y2="25.50" stroke="#111" stroke-width="1.0" />
<text x="324.50" y="27.53" font-size="6.2" text-anchor="end" fill="#2a2a2a" stroke="#2a2a2a" stroke-width="0.18" >100%</text>
<line x1="330.00" y1="108.50" x2="512.00" y2="108.50" stroke="#111" stroke-width="1.0" />
<line x1="339.50" y1="108.50" x2="339.50" y2="111.50" stroke="#111" stroke-width="1.0" />
<text x="339.25" y="120.13" font-size="6.2" text-anchor="middle" fill="#2a2a2a" stroke="#2a2a2a" stroke-width="0.18" >0</text>
<line x1="379.50" y1="108.50" x2="379.50" y2="111.50" stroke="#111" stroke-width="1.0" />
<text x="379.25" y="120.13" font-size="6.2" text-anchor="middle" fill="#2a2a2a" stroke="#2a2a2a" stroke-width="0.18" >12</text>
<line x1="419.50" y1="108.50" x2="419.50" y2="111.50" stroke="#111" stroke-width="1.0" />
<text x="419.25" y="120.13" font-size="6.2" text-anchor="middle" fill="#2a2a2a" stroke="#2a2a2a" stroke-width="0.18" >24</text>
<line x1="459.50" y1="108.50" x2="459.50" y2="111.50" stroke="#111" stroke-width="1.0" />
<text x="459.25" y="120.13" font-size="6.2" text-anchor="middle" fill="#2a2a2a" stroke="#2a2a2a" stroke-width="0.18" >36</text>
<line x1="499.50" y1="108.50" x2="499.50" y2="111.50" stroke="#111" stroke-width="1.0" />
<text x="499.25" y="120.13" font-size="6.2" text-anchor="middle" fill="#2a2a2a" stroke="#2a2a2a" stroke-width="0.18" >48</text>
<text x="439.50" y="88.00" font-size="6.1" text-anchor="start" fill="#2a2a2a" stroke="#2a2a2a" stroke-width="0.18" >Arm A 1/24</text>
<text x="439.50" y="96.40" font-size="6.1" text-anchor="start" fill="#2a2a2a" stroke="#2a2a2a" stroke-width="0.18" >Arm B 4/48</text>
<text x="439.50" y="104.80" font-size="6.1" text-anchor="start" fill="#2a2a2a" stroke="#2a2a2a" stroke-width="0.18" >Non-randomized 9/116</text>
<text transform="translate(421.00,130.55) scale(0.664,1)" font-size="8.2" font-weight="bold" text-anchor="middle" fill="#2a2a2a" word-spacing="0.8">Time [months]</text>
<text transform="translate(303.55,63.50) rotate(-90) scale(0.6,1)" font-size="8.2" font-weight="bold" text-anchor="middle" fill="#2a2a2a">OS</text>
<text x="338.70" y="14.56" font-size="6.0" text-anchor="start" fill="#2a2a2a" stroke="#2a2a2a" stroke-width="0.18" >Strata</text>
<line x1="364.20" y1="12.40" x2="372.60" y2="12.40" stroke="#27477a" stroke-width="0.9" />
<line x1="368.40" y1="10.40" x2="368.40" y2="14.40" stroke="#27477a" stroke-width="0.7" />
<text x="374.80" y="14.56" font-size="6.0" text-anchor="start" fill="#2a2a2a" stroke="#2a2a2a" stroke-width="0.18" >arm A</text>
<line x1="400.90" y1="12.40" x2="409.00" y2="12.40" stroke="#4f9a4f" stroke-width="0.9" />
<line x1="404.95" y1="10.40" x2="404.95" y2="14.40" stroke="#4f9a4f" stroke-width="0.7" />
<text x="411.70" y="14.56" font-size="6.0" text-anchor="start" fill="#2a2a2a" stroke="#2a2a2a" stroke-width="0.18" >arm B</text>
<line x1="437.80" y1="12.40" x2="446.00" y2="12.40" stroke="#b3173f" stroke-width="0.9" />
<line x1="441.90" y1="10.40" x2="441.90" y2="14.40" stroke="#b3173f" stroke-width="0.7" />
<text x="448.60" y="14.56" font-size="6.0" text-anchor="start" fill="#2a2a2a" stroke="#2a2a2a" stroke-width="0.18" >non−randomized</text>
<line x1="327.50" y1="146.30" x2="327.50" y2="175.00" stroke="#111" stroke-width="1.0" />
<line x1="327.00" y1="174.50" x2="512.00" y2="174.50" stroke="#111" stroke-width="1.0" />
<line x1="324.50" y1="149.50" x2="327.50" y2="149.50" stroke="#111" stroke-width="1.0" />
<text x="321.40" y="151.72" font-size="5.9" text-anchor="end" fill="#5a64a8" stroke="#5a64a8" stroke-width="0.18" >arm A</text>
<line x1="324.50" y1="159.50" x2="327.50" y2="159.50" stroke="#111" stroke-width="1.0" />
<text x="321.40" y="161.42" font-size="5.9" text-anchor="end" fill="#6cb86c" stroke="#6cb86c" stroke-width="0.18" >arm B</text>
<line x1="324.50" y1="169.50" x2="327.50" y2="169.50" stroke="#111" stroke-width="1.0" />
<text x="321.40" y="171.12" font-size="5.9" text-anchor="end" fill="#cc4a64" stroke="#cc4a64" stroke-width="0.18" >non−randomized</text>
<line x1="339.50" y1="174.50" x2="339.50" y2="177.50" stroke="#111" stroke-width="1.0" />
<text x="339.25" y="185.23" font-size="6.2" text-anchor="middle" fill="#2a2a2a" stroke="#2a2a2a" stroke-width="0.18" >0</text>
<line x1="379.50" y1="174.50" x2="379.50" y2="177.50" stroke="#111" stroke-width="1.0" />
<text x="379.25" y="185.23" font-size="6.2" text-anchor="middle" fill="#2a2a2a" stroke="#2a2a2a" stroke-width="0.18" >12</text>
<line x1="419.50" y1="174.50" x2="419.50" y2="177.50" stroke="#111" stroke-width="1.0" />
<text x="419.25" y="185.23" font-size="6.2" text-anchor="middle" fill="#2a2a2a" stroke="#2a2a2a" stroke-width="0.18" >24</text>
<line x1="459.50" y1="174.50" x2="459.50" y2="177.50" stroke="#111" stroke-width="1.0" />
<text x="459.25" y="185.23" font-size="6.2" text-anchor="middle" fill="#2a2a2a" stroke="#2a2a2a" stroke-width="0.18" >36</text>
<line x1="499.50" y1="174.50" x2="499.50" y2="177.50" stroke="#111" stroke-width="1.0" />
<text x="499.25" y="185.23" font-size="6.2" text-anchor="middle" fill="#2a2a2a" stroke="#2a2a2a" stroke-width="0.18" >48</text>
<text x="339.25" y="151.80" font-size="6.1" text-anchor="middle" fill="#2a2a2a" stroke="#2a2a2a" stroke-width="0.18" >24 (0)</text>
<text x="379.25" y="151.80" font-size="6.1" text-anchor="middle" fill="#2a2a2a" stroke="#2a2a2a" stroke-width="0.18" >24 (0)</text>
<text x="419.25" y="151.80" font-size="6.1" text-anchor="middle" fill="#2a2a2a" stroke="#2a2a2a" stroke-width="0.18" >23 (1)</text>
<text x="459.25" y="151.80" font-size="6.1" text-anchor="middle" fill="#2a2a2a" stroke="#2a2a2a" stroke-width="0.18" >11 (12)</text>
<text x="499.25" y="151.80" font-size="6.1" text-anchor="middle" fill="#2a2a2a" stroke="#2a2a2a" stroke-width="0.18" >0 (23)</text>
<text x="339.25" y="161.50" font-size="6.1" text-anchor="middle" fill="#2a2a2a" stroke="#2a2a2a" stroke-width="0.18" >48 (0)</text>
<text x="379.25" y="161.50" font-size="6.1" text-anchor="middle" fill="#2a2a2a" stroke="#2a2a2a" stroke-width="0.18" >47 (0)</text>
<text x="419.25" y="161.50" font-size="6.1" text-anchor="middle" fill="#2a2a2a" stroke="#2a2a2a" stroke-width="0.18" >47 (0)</text>
<text x="459.25" y="161.50" font-size="6.1" text-anchor="middle" fill="#2a2a2a" stroke="#2a2a2a" stroke-width="0.18" >17 (27)</text>
<text x="499.25" y="161.50" font-size="6.1" text-anchor="middle" fill="#2a2a2a" stroke="#2a2a2a" stroke-width="0.18" >0 (44)</text>
<text x="339.25" y="171.20" font-size="6.1" text-anchor="middle" fill="#2a2a2a" stroke="#2a2a2a" stroke-width="0.18" >116 (0)</text>
<text x="379.25" y="171.20" font-size="6.1" text-anchor="middle" fill="#2a2a2a" stroke="#2a2a2a" stroke-width="0.18" >114 (0)</text>
<text x="419.25" y="171.20" font-size="6.1" text-anchor="middle" fill="#2a2a2a" stroke="#2a2a2a" stroke-width="0.18" >113 (1)</text>
<text x="459.25" y="171.20" font-size="6.1" text-anchor="middle" fill="#2a2a2a" stroke="#2a2a2a" stroke-width="0.18" >64 (46)</text>
<text x="499.25" y="171.20" font-size="6.1" text-anchor="middle" fill="#2a2a2a" stroke="#2a2a2a" stroke-width="0.18" >0 (107)</text>
<text x="330.80" y="141.22" font-size="5.9" text-anchor="start" fill="#2a2a2a" stroke="#2a2a2a" stroke-width="0.18" >Number at risk (number censored)</text>
<text transform="translate(421.00,196.75) scale(0.664,1)" font-size="8.2" font-weight="bold" text-anchor="middle" fill="#2a2a2a" word-spacing="0.8">Time [months]</text>
<text transform="translate(272.76,160.00) rotate(-90)" font-size="6.0" text-anchor="middle" fill="#2a2a2a" stroke="#2a2a2a" stroke-width="0.18">Strata</text>
<text x="260.4" y="223.1" font-size="11" font-weight="bold" fill="#000" stroke="#000" stroke-width="0.35">E</text>
<path d="M339.00,238.00H357.94V238.45H360.30V238.49H362.67V238.53H365.04V238.57H367.41V238.61H369.77V238.66H372.14V238.70H374.51V238.74H376.88V238.78H379.24V238.82H381.61V238.87H383.98V238.91H386.34V238.95H388.71V238.99H391.08V239.03H393.45V239.08H395.81V239.12H398.18V239.26H400.55V239.40H402.91V239.54H405.28V239.68H407.65V239.82H410.02V239.96H412.38V240.10H414.75V240.24H421.69V243.44H424.53V245.08H434.32V246.57H447.89V248.88H449.78V252.38H452.62V256.48H485.13" fill="none" stroke="#4f9a4f" stroke-width="0.65" opacity="1.0"/>
<path d="M436.84,245.37V247.77M443.16,245.37V247.77M455.78,255.28V257.68M462.09,255.28V257.68M468.41,255.28V257.68M474.72,255.28V257.68M481.03,255.28V257.68" stroke="#4f9a4f" stroke-width="0.6" fill="none" opacity="1.0"/>
<path d="M339.00,238.00H408.44V238.37H429.58V241.87H435.27V244.41H487.98" fill="none" stroke="#27477a" stroke-width="0.65" opacity="1.0"/>
<path d="M443.16,243.21V245.61M452.62,243.21V245.61M458.94,243.21V245.61M465.25,243.21V245.61M471.56,243.21V245.61M477.88,243.21V245.61M484.19,243.21V245.61" stroke="#27477a" stroke-width="0.6" fill="none" opacity="1.0"/>
<path d="M339.00,238.00H343.21V238.07H347.42V238.15H351.62V238.22H355.83V238.30H360.04V238.37H364.25V238.45H368.46V238.57H372.67V238.70H376.88V238.82H381.08V238.94H385.29V239.07H389.50V239.19H393.29V239.36H397.07V239.52H400.86V239.68H404.65V239.85H408.44V240.01H412.67V240.38H416.90V240.76H421.13V241.13H425.36V241.50H429.58V241.87H440.00V243.51H445.68V245.00H452.31V246.27H458.31V248.28H464.93V250.59H490.18" fill="none" stroke="#b3173f" stroke-width="0.7" opacity="1.0"/>
<path d="M433.69,240.67V243.07M436.84,240.67V243.07M443.16,242.31V244.71M449.47,243.80V246.20M454.20,245.07V247.47M460.52,247.08V249.48M468.41,249.39V251.79M474.72,249.39V251.79M481.03,249.39V251.79M487.34,249.39V251.79" stroke="#b3173f" stroke-width="0.6" fill="none" opacity="1.0"/>
<line x1="376.88" y1="240.20" x2="376.88" y2="313.50" stroke="#2a2a2a" stroke-width="0.8" stroke-dasharray="1.2,1.05"/>
<text transform="translate(372.03,293.40) rotate(-90)" font-size="6.2" text-anchor="middle" fill="#2a2a2a" stroke="#2a2a2a" stroke-width="0.18">Month 27</text>
<line x1="330.50" y1="227.50" x2="330.50" y2="318.00" stroke="#111" stroke-width="1.0" />
<line x1="327.50" y1="312.50" x2="330.50" y2="312.50" stroke="#111" stroke-width="1.0" />
<text x="324.00" y="315.03" font-size="6.2" text-anchor="end" fill="#2a2a2a" stroke="#2a2a2a" stroke-width="0.18" >0%</text>
<line x1="327.50" y1="293.50" x2="330.50" y2="293.50" stroke="#111" stroke-width="1.0" />
<text x="324.00" y="296.41" font-size="6.2" text-anchor="end" fill="#2a2a2a" stroke="#2a2a2a" stroke-width="0.18" >25%</text>
<line x1="327.50" y1="275.50" x2="330.50" y2="275.50" stroke="#111" stroke-width="1.0" />
<text x="324.00" y="277.78" font-size="6.2" text-anchor="end" fill="#2a2a2a" stroke="#2a2a2a" stroke-width="0.18" >50%</text>
<line x1="327.50" y1="256.50" x2="330.50" y2="256.50" stroke="#111" stroke-width="1.0" />
<text x="324.00" y="259.16" font-size="6.2" text-anchor="end" fill="#2a2a2a" stroke="#2a2a2a" stroke-width="0.18" >75%</text>
<line x1="327.50" y1="238.50" x2="330.50" y2="238.50" stroke="#111" stroke-width="1.0" />
<text x="324.00" y="240.53" font-size="6.2" text-anchor="end" fill="#2a2a2a" stroke="#2a2a2a" stroke-width="0.18" >100%</text>
<line x1="330.00" y1="317.50" x2="511.80" y2="317.50" stroke="#111" stroke-width="1.0" />
<line x1="339.50" y1="317.50" x2="339.50" y2="320.50" stroke="#111" stroke-width="1.0" />
<text x="339.00" y="328.13" font-size="6.2" text-anchor="middle" fill="#2a2a2a" stroke="#2a2a2a" stroke-width="0.18" >0</text>
<line x1="376.50" y1="317.50" x2="376.50" y2="320.50" stroke="#111" stroke-width="1.0" />
<text x="376.88" y="328.13" font-size="6.2" text-anchor="middle" fill="#2a2a2a" stroke="#2a2a2a" stroke-width="0.18" >12</text>
<line x1="414.50" y1="317.50" x2="414.50" y2="320.50" stroke="#111" stroke-width="1.0" />
<text x="414.75" y="328.13" font-size="6.2" text-anchor="middle" fill="#2a2a2a" stroke="#2a2a2a" stroke-width="0.18" >24</text>
<line x1="452.50" y1="317.50" x2="452.50" y2="320.50" stroke="#111" stroke-width="1.0" />
<text x="452.62" y="328.13" font-size="6.2" text-anchor="middle" fill="#2a2a2a" stroke="#2a2a2a" stroke-width="0.18" >36</text>
<line x1="490.50" y1="317.50" x2="490.50" y2="320.50" stroke="#111" stroke-width="1.0" />
<text x="490.50" y="328.13" font-size="6.2" text-anchor="middle" fill="#2a2a2a" stroke="#2a2a2a" stroke-width="0.18" >48</text>
<text x="439.30" y="296.50" font-size="6.1" text-anchor="start" fill="#2a2a2a" stroke="#2a2a2a" stroke-width="0.18" >Arm A 2/24</text>
<text x="439.30" y="304.80" font-size="6.1" text-anchor="start" fill="#2a2a2a" stroke="#2a2a2a" stroke-width="0.18" >Arm B 9/48</text>
<text x="439.30" y="313.30" font-size="6.1" text-anchor="start" fill="#2a2a2a" stroke="#2a2a2a" stroke-width="0.18" >Non-randomized 14/116</text>
<text transform="translate(421.00,339.65) scale(0.664,1)" font-size="8.2" font-weight="bold" text-anchor="middle" fill="#2a2a2a" word-spacing="0.8">Time [months]</text>
<text transform="translate(304.15,272.50) rotate(-90) scale(0.664,1)" font-size="8.2" font-weight="bold" text-anchor="middle" fill="#2a2a2a">PFS</text>
<text x="338.20" y="222.96" font-size="6.0" text-anchor="start" fill="#2a2a2a" stroke="#2a2a2a" stroke-width="0.18" >Strata</text>
<line x1="364.20" y1="220.80" x2="372.60" y2="220.80" stroke="#27477a" stroke-width="0.9" />
<line x1="368.40" y1="218.80" x2="368.40" y2="222.80" stroke="#27477a" stroke-width="0.7" />
<text x="374.80" y="222.96" font-size="6.0" text-anchor="start" fill="#2a2a2a" stroke="#2a2a2a" stroke-width="0.18" >arm A</text>
<line x1="400.90" y1="220.80" x2="409.00" y2="220.80" stroke="#4f9a4f" stroke-width="0.9" />
<line x1="404.95" y1="218.80" x2="404.95" y2="222.80" stroke="#4f9a4f" stroke-width="0.7" />
<text x="411.70" y="222.96" font-size="6.0" text-anchor="start" fill="#2a2a2a" stroke="#2a2a2a" stroke-width="0.18" >arm B</text>
<line x1="437.80" y1="220.80" x2="446.00" y2="220.80" stroke="#b3173f" stroke-width="0.9" />
<line x1="441.90" y1="218.80" x2="441.90" y2="222.80" stroke="#b3173f" stroke-width="0.7" />
<text x="447.80" y="222.96" font-size="6.0" text-anchor="start" fill="#2a2a2a" stroke="#2a2a2a" stroke-width="0.18" >non−randomized</text>
<line x1="327.50" y1="355.00" x2="327.50" y2="383.00" stroke="#111" stroke-width="1.0" />
<line x1="327.00" y1="382.50" x2="512.50" y2="382.50" stroke="#111" stroke-width="1.0" />
<line x1="324.50" y1="357.50" x2="327.50" y2="357.50" stroke="#111" stroke-width="1.0" />
<text x="321.50" y="359.92" font-size="5.9" text-anchor="end" fill="#5a64a8" stroke="#5a64a8" stroke-width="0.18" >arm A</text>
<line x1="324.50" y1="367.50" x2="327.50" y2="367.50" stroke="#111" stroke-width="1.0" />
<text x="321.50" y="369.72" font-size="5.9" text-anchor="end" fill="#6cb86c" stroke="#6cb86c" stroke-width="0.18" >arm B</text>
<line x1="324.50" y1="377.50" x2="327.50" y2="377.50" stroke="#111" stroke-width="1.0" />
<text x="321.50" y="379.52" font-size="5.9" text-anchor="end" fill="#cc4a64" stroke="#cc4a64" stroke-width="0.18" >non−randomized</text>
<line x1="339.50" y1="382.50" x2="339.50" y2="385.50" stroke="#111" stroke-width="1.0" />
<text x="339.00" y="393.23" font-size="6.2" text-anchor="middle" fill="#2a2a2a" stroke="#2a2a2a" stroke-width="0.18" >0</text>
<line x1="376.50" y1="382.50" x2="376.50" y2="385.50" stroke="#111" stroke-width="1.0" />
<text x="376.88" y="393.23" font-size="6.2" text-anchor="middle" fill="#2a2a2a" stroke="#2a2a2a" stroke-width="0.18" >12</text>
<line x1="414.50" y1="382.50" x2="414.50" y2="385.50" stroke="#111" stroke-width="1.0" />
<text x="414.75" y="393.23" font-size="6.2" text-anchor="middle" fill="#2a2a2a" stroke="#2a2a2a" stroke-width="0.18" >24</text>
<line x1="452.50" y1="382.50" x2="452.50" y2="385.50" stroke="#111" stroke-width="1.0" />
<text x="452.62" y="393.23" font-size="6.2" text-anchor="middle" fill="#2a2a2a" stroke="#2a2a2a" stroke-width="0.18" >36</text>
<line x1="490.50" y1="382.50" x2="490.50" y2="385.50" stroke="#111" stroke-width="1.0" />
<text x="490.50" y="393.23" font-size="6.2" text-anchor="middle" fill="#2a2a2a" stroke="#2a2a2a" stroke-width="0.18" >48</text>
<text x="339.00" y="360.00" font-size="6.1" text-anchor="middle" fill="#2a2a2a" stroke="#2a2a2a" stroke-width="0.18" >24 (0)</text>
<text x="376.88" y="360.00" font-size="6.1" text-anchor="middle" fill="#2a2a2a" stroke="#2a2a2a" stroke-width="0.18" >24 (0)</text>
<text x="414.75" y="360.00" font-size="6.1" text-anchor="middle" fill="#2a2a2a" stroke="#2a2a2a" stroke-width="0.18" >23 (1)</text>
<text x="452.62" y="360.00" font-size="6.1" text-anchor="middle" fill="#2a2a2a" stroke="#2a2a2a" stroke-width="0.18" >11 (11)</text>
<text x="490.50" y="360.00" font-size="6.1" text-anchor="middle" fill="#2a2a2a" stroke="#2a2a2a" stroke-width="0.18" >0 (22)</text>
<text x="339.00" y="369.80" font-size="6.1" text-anchor="middle" fill="#2a2a2a" stroke="#2a2a2a" stroke-width="0.18" >48 (0)</text>
<text x="376.88" y="369.80" font-size="6.1" text-anchor="middle" fill="#2a2a2a" stroke="#2a2a2a" stroke-width="0.18" >47 (0)</text>
<text x="414.75" y="369.80" font-size="6.1" text-anchor="middle" fill="#2a2a2a" stroke="#2a2a2a" stroke-width="0.18" >45 (0)</text>
<text x="452.62" y="369.80" font-size="6.1" text-anchor="middle" fill="#2a2a2a" stroke="#2a2a2a" stroke-width="0.18" >16 (23)</text>
<text x="490.50" y="369.80" font-size="6.1" text-anchor="middle" fill="#2a2a2a" stroke="#2a2a2a" stroke-width="0.18" >0 (39)</text>
<text x="339.00" y="379.60" font-size="6.1" text-anchor="middle" fill="#2a2a2a" stroke="#2a2a2a" stroke-width="0.18" >116 (0)</text>
<text x="376.88" y="379.60" font-size="6.1" text-anchor="middle" fill="#2a2a2a" stroke="#2a2a2a" stroke-width="0.18" >114 (0)</text>
<text x="414.75" y="379.60" font-size="6.1" text-anchor="middle" fill="#2a2a2a" stroke="#2a2a2a" stroke-width="0.18" >109 (1)</text>
<text x="452.62" y="379.60" font-size="6.1" text-anchor="middle" fill="#2a2a2a" stroke="#2a2a2a" stroke-width="0.18" >60 (45)</text>
<text x="490.50" y="379.60" font-size="6.1" text-anchor="middle" fill="#2a2a2a" stroke="#2a2a2a" stroke-width="0.18" >0 (102)</text>
<text x="330.30" y="350.22" font-size="5.9" text-anchor="start" fill="#2a2a2a" stroke="#2a2a2a" stroke-width="0.18" >Number at risk (number censored)</text>
<text transform="translate(421.00,405.15) scale(0.664,1)" font-size="8.2" font-weight="bold" text-anchor="middle" fill="#2a2a2a" word-spacing="0.8">Time [months]</text>
<text transform="translate(272.76,368.20) rotate(-90)" font-size="6.0" text-anchor="middle" fill="#2a2a2a" stroke="#2a2a2a" stroke-width="0.18">Strata</text>
<text x="260.4" y="431.5" font-size="11" font-weight="bold" fill="#000" stroke="#000" stroke-width="0.35">F</text>
<path d="M335.30,518.30H354.43V517.85H407.66V516.03H420.73V513.22H429.97V511.33H448.46V509.51H481.93" fill="none" stroke="#3f8a5a" stroke-width="0.65" opacity="1.0"/>
<path d="M440.49,510.13V512.53M453.24,508.31V510.71M459.61,508.31V510.71M469.18,508.31V510.71M475.55,508.31V510.71" stroke="#3f8a5a" stroke-width="0.6" fill="none" opacity="1.0"/>
<path d="M335.30,518.30H391.40V515.57H431.88V508.22H485.11" fill="none" stroke="#2a4a6a" stroke-width="0.65" opacity="1.0"/>
<path d="M443.68,507.02V509.42M453.24,507.02V509.42M462.80,507.02V509.42M472.36,507.02V509.42M481.93,507.02V509.42" stroke="#2a4a6a" stroke-width="0.6" fill="none" opacity="1.0"/>
<path d="M335.30,518.30H407.66V516.78H439.21V515.50H443.99V513.68H448.46V512.99H452.92V511.93H456.74V509.96H487.02" fill="none" stroke="#b3173f" stroke-width="0.7" opacity="1.0"/>
<path d="M462.80,508.76V511.16M467.58,508.76V511.16M472.36,508.76V511.16M477.14,508.76V511.16M481.93,508.76V511.16" stroke="#b3173f" stroke-width="0.6" fill="none" opacity="1.0"/>
<line x1="327.50" y1="433.80" x2="327.50" y2="523.00" stroke="#111" stroke-width="1.0" />
<line x1="324.50" y1="518.50" x2="327.50" y2="518.50" stroke="#111" stroke-width="1.0" />
<text x="321.00" y="520.83" font-size="6.2" text-anchor="end" fill="#2a2a2a" stroke="#2a2a2a" stroke-width="0.18" >0%</text>
<line x1="324.50" y1="499.50" x2="327.50" y2="499.50" stroke="#111" stroke-width="1.0" />
<text x="321.00" y="501.88" font-size="6.2" text-anchor="end" fill="#2a2a2a" stroke="#2a2a2a" stroke-width="0.18" >25%</text>
<line x1="324.50" y1="480.50" x2="327.50" y2="480.50" stroke="#111" stroke-width="1.0" />
<text x="321.00" y="482.93" font-size="6.2" text-anchor="end" fill="#2a2a2a" stroke="#2a2a2a" stroke-width="0.18" >50%</text>
<line x1="324.50" y1="461.50" x2="327.50" y2="461.50" stroke="#111" stroke-width="1.0" />
<text x="321.00" y="463.98" font-size="6.2" text-anchor="end" fill="#2a2a2a" stroke="#2a2a2a" stroke-width="0.18" >75%</text>
<line x1="324.50" y1="442.50" x2="327.50" y2="442.50" stroke="#111" stroke-width="1.0" />
<text x="321.00" y="445.03" font-size="6.2" text-anchor="end" fill="#2a2a2a" stroke="#2a2a2a" stroke-width="0.18" >100%</text>
<line x1="327.00" y1="522.50" x2="495.20" y2="522.50" stroke="#111" stroke-width="1.0" />
<line x1="335.50" y1="522.50" x2="335.50" y2="525.50" stroke="#111" stroke-width="1.0" />
<text x="335.30" y="534.43" font-size="6.2" text-anchor="middle" fill="#2a2a2a" stroke="#2a2a2a" stroke-width="0.18" >0</text>
<line x1="354.50" y1="522.50" x2="354.50" y2="525.50" stroke="#111" stroke-width="1.0" />
<text x="354.43" y="534.43" font-size="6.2" text-anchor="middle" fill="#2a2a2a" stroke="#2a2a2a" stroke-width="0.18" >6</text>
<line x1="373.50" y1="522.50" x2="373.50" y2="525.50" stroke="#111" stroke-width="1.0" />
<text x="373.55" y="534.43" font-size="6.2" text-anchor="middle" fill="#2a2a2a" stroke="#2a2a2a" stroke-width="0.18" >12</text>
<line x1="392.50" y1="522.50" x2="392.50" y2="525.50" stroke="#111" stroke-width="1.0" />
<text x="392.68" y="534.43" font-size="6.2" text-anchor="middle" fill="#2a2a2a" stroke="#2a2a2a" stroke-width="0.18" >18</text>
<line x1="411.50" y1="522.50" x2="411.50" y2="525.50" stroke="#111" stroke-width="1.0" />
<text x="411.80" y="534.43" font-size="6.2" text-anchor="middle" fill="#2a2a2a" stroke="#2a2a2a" stroke-width="0.18" >24</text>
<line x1="430.50" y1="522.50" x2="430.50" y2="525.50" stroke="#111" stroke-width="1.0" />
<text x="430.93" y="534.43" font-size="6.2" text-anchor="middle" fill="#2a2a2a" stroke="#2a2a2a" stroke-width="0.18" >30</text>
<line x1="450.50" y1="522.50" x2="450.50" y2="525.50" stroke="#111" stroke-width="1.0" />
<text x="450.05" y="534.43" font-size="6.2" text-anchor="middle" fill="#2a2a2a" stroke="#2a2a2a" stroke-width="0.18" >36</text>
<line x1="469.50" y1="522.50" x2="469.50" y2="525.50" stroke="#111" stroke-width="1.0" />
<text x="469.18" y="534.43" font-size="6.2" text-anchor="middle" fill="#2a2a2a" stroke="#2a2a2a" stroke-width="0.18" >42</text>
<line x1="488.50" y1="522.50" x2="488.50" y2="525.50" stroke="#111" stroke-width="1.0" />
<text x="488.30" y="534.43" font-size="6.2" text-anchor="middle" fill="#2a2a2a" stroke="#2a2a2a" stroke-width="0.18" >48</text>
<text x="337.00" y="486.10" font-size="6.1" text-anchor="start" fill="#2a2a2a" stroke="#2a2a2a" stroke-width="0.18" >Arm A 3/24</text>
<text x="337.00" y="494.60" font-size="6.1" text-anchor="start" fill="#2a2a2a" stroke="#2a2a2a" stroke-width="0.18" >Arm B 5/48</text>
<text x="337.00" y="503.10" font-size="6.1" text-anchor="start" fill="#2a2a2a" stroke="#2a2a2a" stroke-width="0.18" >Non-randomized 9/116</text>
<text transform="translate(410.50,545.15) scale(0.664,1)" font-size="8.2" font-weight="bold" text-anchor="middle" fill="#2a2a2a" word-spacing="0.8">Time [months]</text>
<text transform="translate(300.95,478.50) rotate(-90) scale(0.645,1)" font-size="8.2" font-weight="bold" text-anchor="middle" fill="#2a2a2a">Cumulative incidence (%)</text>
<text x="336.40" y="428.56" font-size="6.0" text-anchor="start" fill="#2a2a2a" stroke="#2a2a2a" stroke-width="0.18" >Strata</text>
<line x1="361.70" y1="426.40" x2="369.90" y2="426.40" stroke="#1d3559" stroke-width="0.9" />
<line x1="365.80" y1="424.40" x2="365.80" y2="428.40" stroke="#1d3559" stroke-width="0.7" />
<text x="371.80" y="428.56" font-size="6.0" text-anchor="start" fill="#2a2a2a" stroke="#2a2a2a" stroke-width="0.18" >arm A</text>
<line x1="398.60" y1="426.40" x2="406.10" y2="426.40" stroke="#2f6e4f" stroke-width="0.9" />
<line x1="402.35" y1="424.40" x2="402.35" y2="428.40" stroke="#2f6e4f" stroke-width="0.7" />
<text x="408.40" y="428.56" font-size="6.0" text-anchor="start" fill="#2a2a2a" stroke="#2a2a2a" stroke-width="0.18" >arm B</text>
<line x1="435.20" y1="426.40" x2="443.00" y2="426.40" stroke="#8a1230" stroke-width="0.9" />
<line x1="439.10" y1="424.40" x2="439.10" y2="428.40" stroke="#8a1230" stroke-width="0.7" />
<text x="445.00" y="428.56" font-size="6.0" text-anchor="start" fill="#2a2a2a" stroke="#2a2a2a" stroke-width="0.18" >non−randomized</text>
<line x1="327.50" y1="561.50" x2="327.50" y2="589.00" stroke="#111" stroke-width="1.0" />
<line x1="327.00" y1="588.50" x2="495.20" y2="588.50" stroke="#111" stroke-width="1.0" />
<text x="321.80" y="565.62" font-size="5.9" text-anchor="end" fill="#5a64a8" stroke="#5a64a8" stroke-width="0.18" >arm A</text>
<text x="321.80" y="575.42" font-size="5.9" text-anchor="end" fill="#6cb86c" stroke="#6cb86c" stroke-width="0.18" >arm B</text>
<text x="321.80" y="584.92" font-size="5.9" text-anchor="end" fill="#cc4a64" stroke="#cc4a64" stroke-width="0.18" >non−randomized</text>
<line x1="335.50" y1="588.50" x2="335.50" y2="591.50" stroke="#111" stroke-width="1.0" />
<text x="335.30" y="599.53" font-size="6.2" text-anchor="middle" fill="#2a2a2a" stroke="#2a2a2a" stroke-width="0.18" >0</text>
<line x1="354.50" y1="588.50" x2="354.50" y2="591.50" stroke="#111" stroke-width="1.0" />
<text x="354.43" y="599.53" font-size="6.2" text-anchor="middle" fill="#2a2a2a" stroke="#2a2a2a" stroke-width="0.18" >6</text>
<line x1="373.50" y1="588.50" x2="373.50" y2="591.50" stroke="#111" stroke-width="1.0" />
<text x="373.55" y="599.53" font-size="6.2" text-anchor="middle" fill="#2a2a2a" stroke="#2a2a2a" stroke-width="0.18" >12</text>
<line x1="392.50" y1="588.50" x2="392.50" y2="591.50" stroke="#111" stroke-width="1.0" />
<text x="392.68" y="599.53" font-size="6.2" text-anchor="middle" fill="#2a2a2a" stroke="#2a2a2a" stroke-width="0.18" >18</text>
<line x1="411.50" y1="588.50" x2="411.50" y2="591.50" stroke="#111" stroke-width="1.0" />
<text x="411.80" y="599.53" font-size="6.2" text-anchor="middle" fill="#2a2a2a" stroke="#2a2a2a" stroke-width="0.18" >24</text>
<line x1="430.50" y1="588.50" x2="430.50" y2="591.50" stroke="#111" stroke-width="1.0" />
<text x="430.93" y="599.53" font-size="6.2" text-anchor="middle" fill="#2a2a2a" stroke="#2a2a2a" stroke-width="0.18" >30</text>
<line x1="450.50" y1="588.50" x2="450.50" y2="591.50" stroke="#111" stroke-width="1.0" />
<text x="450.05" y="599.53" font-size="6.2" text-anchor="middle" fill="#2a2a2a" stroke="#2a2a2a" stroke-width="0.18" >36</text>
<line x1="469.50" y1="588.50" x2="469.50" y2="591.50" stroke="#111" stroke-width="1.0" />
<text x="469.18" y="599.53" font-size="6.2" text-anchor="middle" fill="#2a2a2a" stroke="#2a2a2a" stroke-width="0.18" >42</text>
<line x1="488.50" y1="588.50" x2="488.50" y2="591.50" stroke="#111" stroke-width="1.0" />
<text x="488.30" y="599.53" font-size="6.2" text-anchor="middle" fill="#2a2a2a" stroke="#2a2a2a" stroke-width="0.18" >48</text>
<text x="335.30" y="565.70" font-size="6.1" text-anchor="middle" fill="#2a2a2a" stroke="#2a2a2a" stroke-width="0.18" >24</text>
<text x="354.43" y="565.70" font-size="6.1" text-anchor="middle" fill="#2a2a2a" stroke="#2a2a2a" stroke-width="0.18" >24</text>
<text x="373.55" y="565.70" font-size="6.1" text-anchor="middle" fill="#2a2a2a" stroke="#2a2a2a" stroke-width="0.18" >24</text>
<text x="392.68" y="565.70" font-size="6.1" text-anchor="middle" fill="#2a2a2a" stroke="#2a2a2a" stroke-width="0.18" >23</text>
<text x="411.80" y="565.70" font-size="6.1" text-anchor="middle" fill="#2a2a2a" stroke="#2a2a2a" stroke-width="0.18" >22</text>
<text x="430.93" y="565.70" font-size="6.1" text-anchor="middle" fill="#2a2a2a" stroke="#2a2a2a" stroke-width="0.18" >19</text>
<text x="450.05" y="565.70" font-size="6.1" text-anchor="middle" fill="#2a2a2a" stroke="#2a2a2a" stroke-width="0.18" >11</text>
<text x="469.18" y="565.70" font-size="6.1" text-anchor="middle" fill="#2a2a2a" stroke="#2a2a2a" stroke-width="0.18" >3</text>
<text x="488.30" y="565.70" font-size="6.1" text-anchor="middle" fill="#2a2a2a" stroke="#2a2a2a" stroke-width="0.18" >0</text>
<text x="335.30" y="575.50" font-size="6.1" text-anchor="middle" fill="#2a2a2a" stroke="#2a2a2a" stroke-width="0.18" >48</text>
<text x="354.43" y="575.50" font-size="6.1" text-anchor="middle" fill="#2a2a2a" stroke="#2a2a2a" stroke-width="0.18" >47</text>
<text x="373.55" y="575.50" font-size="6.1" text-anchor="middle" fill="#2a2a2a" stroke="#2a2a2a" stroke-width="0.18" >47</text>
<text x="392.68" y="575.50" font-size="6.1" text-anchor="middle" fill="#2a2a2a" stroke="#2a2a2a" stroke-width="0.18" >47</text>
<text x="411.80" y="575.50" font-size="6.1" text-anchor="middle" fill="#2a2a2a" stroke="#2a2a2a" stroke-width="0.18" >46</text>
<text x="430.93" y="575.50" font-size="6.1" text-anchor="middle" fill="#2a2a2a" stroke="#2a2a2a" stroke-width="0.18" >39</text>
<text x="450.05" y="575.50" font-size="6.1" text-anchor="middle" fill="#2a2a2a" stroke="#2a2a2a" stroke-width="0.18" >16</text>
<text x="469.18" y="575.50" font-size="6.1" text-anchor="middle" fill="#2a2a2a" stroke="#2a2a2a" stroke-width="0.18" >3</text>
<text x="488.30" y="575.50" font-size="6.1" text-anchor="middle" fill="#2a2a2a" stroke="#2a2a2a" stroke-width="0.18" >0</text>
<text x="335.30" y="585.00" font-size="6.1" text-anchor="middle" fill="#2a2a2a" stroke="#2a2a2a" stroke-width="0.18" >116</text>
<text x="354.43" y="585.00" font-size="6.1" text-anchor="middle" fill="#2a2a2a" stroke="#2a2a2a" stroke-width="0.18" >116</text>
<text x="373.55" y="585.00" font-size="6.1" text-anchor="middle" fill="#2a2a2a" stroke="#2a2a2a" stroke-width="0.18" >114</text>
<text x="392.68" y="585.00" font-size="6.1" text-anchor="middle" fill="#2a2a2a" stroke="#2a2a2a" stroke-width="0.18" >112</text>
<text x="411.80" y="585.00" font-size="6.1" text-anchor="middle" fill="#2a2a2a" stroke="#2a2a2a" stroke-width="0.18" >112</text>
<text x="430.93" y="585.00" font-size="6.1" text-anchor="middle" fill="#2a2a2a" stroke="#2a2a2a" stroke-width="0.18" >107</text>
<text x="450.05" y="585.00" font-size="6.1" text-anchor="middle" fill="#2a2a2a" stroke="#2a2a2a" stroke-width="0.18" >61</text>
<text x="469.18" y="585.00" font-size="6.1" text-anchor="middle" fill="#2a2a2a" stroke="#2a2a2a" stroke-width="0.18" >18</text>
<text x="488.30" y="585.00" font-size="6.1" text-anchor="middle" fill="#2a2a2a" stroke="#2a2a2a" stroke-width="0.18" >0</text>
<text x="328.30" y="555.92" font-size="5.9" text-anchor="start" fill="#2a2a2a" stroke="#2a2a2a" stroke-width="0.18" >Number at risk</text>
<text transform="translate(410.50,611.85) scale(0.664,1)" font-size="8.2" font-weight="bold" text-anchor="middle" fill="#2a2a2a" word-spacing="0.8">Time [months]</text>
<text transform="translate(272.76,572.50) rotate(-90)" font-size="6.0" text-anchor="middle" fill="#2a2a2a" stroke="#2a2a2a" stroke-width="0.18">Strata</text>
<rect x="0.5" y="0.5" width="519" height="619" fill="none" stroke="#5d5d5d" stroke-width="1"/>
</svg></body></html>
